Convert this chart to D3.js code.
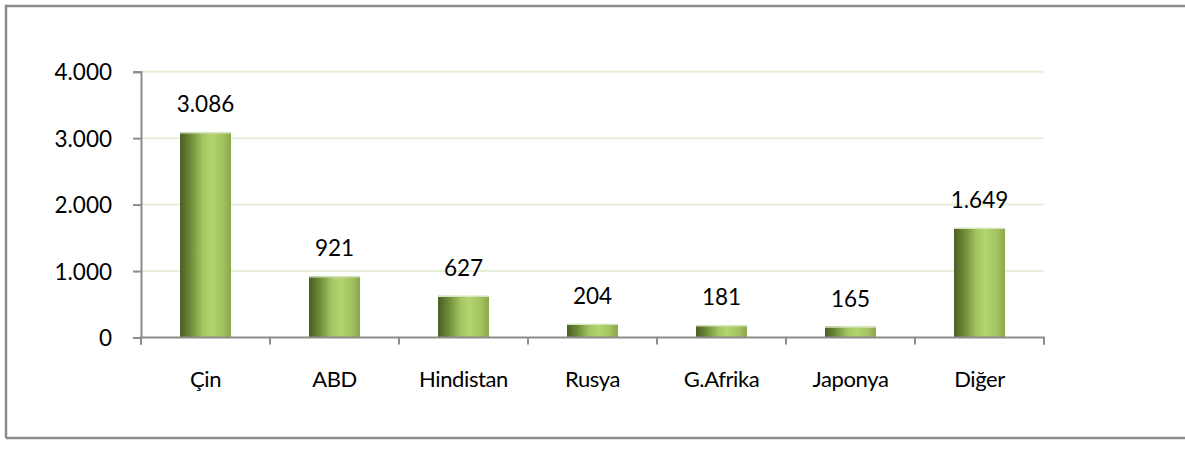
<!DOCTYPE html>
<html><head><meta charset="utf-8">
<script src="https://cdn.jsdelivr.net/npm/d3@7"></script>
<style>html,body{margin:0;padding:0;background:#fff;} svg{display:block;font-family:Lato, "Open Sans", sans-serif;}</style>
</head><body>
<svg id="c" width="1185" height="451"></svg>
<script>
const categories = ["Çin","ABD","Hindistan","Rusya","G.Afrika","Japonya","Diğer"];
const values = [3086, 921, 627, 204, 181, 165, 1649];
const valueLabels = ["3.086","921","627","204","181","165","1.649"];
const yTicks = [0, 1000, 2000, 3000, 4000];
const yTickLabels = ["0","1.000","2.000","3.000","4.000"];

const svg = d3.select("#c");
const x = d3.scaleBand().domain(categories).range([141, 1044]).padding(0);
const y = d3.scaleLinear().domain([0, 4000]).range([337.5, 71.7]);

// outer border (left, top, bottom)
svg.append("path").attr("d","M6,438 V6 H1185 M6,438 H1185")
  .attr("fill","none").attr("stroke","#8a8a8a").attr("stroke-width",2.5);

const defs = svg.append("defs");
const g = defs.append("linearGradient").attr("id","bar").attr("x1","0").attr("x2","1").attr("y1","0").attr("y2","0");
[[0,"#4a5d25"],[0.18,"#6a8535"],[0.45,"#a4c762"],[0.62,"#b3d470"],[0.85,"#a2c160"],[1,"#8aa64a"]]
  .forEach(([o,c])=>g.append("stop").attr("offset",o).attr("stop-color",c));

// gridlines
svg.append("g").selectAll("line").data(yTicks.filter(d=>d>0)).join("line")
  .attr("x1",141).attr("x2",1044).attr("y1",d=>y(d)).attr("y2",d=>y(d))
  .attr("stroke","#e8efd9").attr("stroke-width",2);

// bars
const bw = x.bandwidth()*0.395;
svg.append("g").selectAll("rect").data(categories).join("rect")
  .attr("x",(d)=>x(d)+x.bandwidth()/2-bw/2)
  .attr("width",bw)
  .attr("y",(d,i)=>y(values[i]))
  .attr("height",(d,i)=>y(0)-y(values[i]))
  .attr("fill","url(#bar)");
svg.append("g").selectAll("line").data(categories).join("line")
  .attr("x1",(d)=>x(d)+x.bandwidth()/2-bw/2).attr("x2",(d)=>x(d)+x.bandwidth()/2+bw/2)
  .attr("y1",(d,i)=>y(values[i])+0.5).attr("y2",(d,i)=>y(values[i])+0.5)
  .attr("stroke","#d8e6c0").attr("stroke-width",1.2);

// y axis
const yAxis = d3.axisLeft(y).tickValues(yTicks).tickSize(8).tickFormat((d,i)=>yTickLabels[i]);
const ya = svg.append("g").attr("transform","translate(141,0)").call(yAxis);
ya.select(".domain").attr("stroke","#8c8c8c").attr("stroke-width",2);
ya.selectAll(".tick line").attr("stroke","#8c8c8c").attr("stroke-width",2);
ya.selectAll(".tick text").attr("font-size",22.5).attr("fill","#000").attr("x",-29).attr("dy","0.36em")
  .attr("font-family","Lato, 'Open Sans', sans-serif");

// x axis
const xAxis = d3.axisBottom(x).tickSize(7).tickSizeOuter(7).tickFormat(d=>d);
const xa = svg.append("g").attr("transform",`translate(0,${y(0)})`).call(xAxis);
xa.select(".domain").attr("stroke","#8c8c8c").attr("stroke-width",2).attr("d","M141,7V0H1044V7");
xa.selectAll(".tick line").attr("stroke","none");
xa.selectAll(".tick text").attr("font-size",22).attr("letter-spacing","-0.4px").attr("fill","#000").attr("y",49.5).attr("dy",0)
  .attr("font-family","Lato, 'Open Sans', sans-serif");
// category boundary ticks
svg.append("g").selectAll("line").data(d3.range(categories.length+1)).join("line")
  .attr("x1",i=>141+i*x.step()).attr("x2",i=>141+i*x.step())
  .attr("y1",y(0)).attr("y2",y(0)+7).attr("stroke","#8c8c8c").attr("stroke-width",2);

// value labels
svg.append("g").selectAll("text").data(categories).join("text")
  .attr("x",d=>x(d)+x.bandwidth()/2)
  .attr("y",(d,i)=>y(values[i])-20)
  .attr("text-anchor","middle").attr("font-size",22.5).attr("fill","#000")
  .text((d,i)=>valueLabels[i]);
</script>
</body></html>
